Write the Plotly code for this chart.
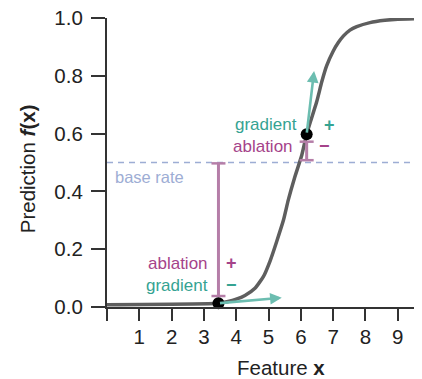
import plotly.graph_objects as go

# Curve
curve_x = [0, 3.45, 3.75, 4.0, 4.27, 4.58, 4.84, 5.05, 5.25, 5.46, 5.61, 5.80, 6.03, 6.18,
           6.28, 6.49, 6.65, 6.80, 7.0, 7.16, 7.32, 7.52, 7.73, 8.14, 8.6, 9.0, 9.75]
curve_y = [0.008, 0.013, 0.019, 0.027, 0.040, 0.065, 0.105, 0.160, 0.226, 0.30, 0.37, 0.445,
           0.526, 0.598, 0.635, 0.71, 0.78, 0.835, 0.885, 0.915, 0.938, 0.958, 0.970, 0.984,
           0.992, 0.996, 0.998]

base_rate = 0.5
x_range = [0, 9.75]

# Points of interest
pts_x = [3.45, 6.18]
pts_y = [0.013, 0.598]

# Ablation bars (x, y_from, y_to)
abl_x = [3.45, 6.18]
abl_y0 = [0.497, 0.508]
abl_y1 = [0.038, 0.572]

# Gradient arrows (tail = point, tip)
grad_tip_x = [5.41, 6.41]
grad_tip_y = [0.032, 0.817]

# Labels
lab_text = ["ablation", "gradient", "gradient", "ablation"]
lab_x = [3.2, 3.2, 5.95, 5.82]
lab_y = [0.151, 0.076, 0.63, 0.557]
lab_sign = ["+", "−", "+", "−"]
sign_x = [3.84, 3.84, 6.9, 6.72]

xtick_vals = [0, 1, 2, 3, 4, 5, 6, 7, 8, 9]
xtick_text = ["", "1", "2", "3", "4", "5", "6", "7", "8", "9"]
ytick_vals = [0.0, 0.2, 0.4, 0.6, 0.8, 1.0]
ytick_text = ["0.0", "0.2", "0.4", "0.6", "0.8", "1.0"]

CURVE = "#5e5e5e"
BASE = "#9dadd4"
ABL_BAR = "#b57ea8"
ABL_TXT = "#a5438a"
GRAD_ARR = "#6cbdb0"
GRAD_TXT = "#35a392"
AX = "#333333"
FONT = "Liberation Sans, Arial, sans-serif"

fig = go.Figure()

fig.add_trace(go.Scatter(x=x_range, y=[base_rate, base_rate], mode="lines",
                         line=dict(color=BASE, width=1.6, dash="6px,5px"),
                         hoverinfo="skip"))

fig.add_trace(go.Scatter(x=curve_x, y=curve_y, mode="lines",
                         line=dict(color=CURVE, width=3.5, shape="spline", smoothing=0.5),
                         hoverinfo="skip", cliponaxis=False))

for i in range(len(abl_x)):
    fig.add_trace(go.Scatter(x=[abl_x[i], abl_x[i]], y=[abl_y0[i], abl_y1[i]],
                             mode="lines+markers",
                             line=dict(color=ABL_BAR, width=3),
                             marker=dict(symbol="line-ew", size=10,
                                         line=dict(color=ABL_BAR, width=2.5)),
                             hoverinfo="skip"))

for i in range(len(pts_x)):
    fig.add_annotation(x=grad_tip_x[i], y=grad_tip_y[i], ax=pts_x[i], ay=pts_y[i],
                       xref="x", yref="y", axref="x", ayref="y", text="",
                       showarrow=True, arrowhead=2, arrowsize=0.9, arrowwidth=2.6,
                       arrowcolor=GRAD_ARR, standoff=0, startstandoff=0)

fig.add_trace(go.Scatter(x=pts_x, y=pts_y, mode="markers",
                         marker=dict(color="black", size=12),
                         hoverinfo="skip", cliponaxis=False))

for i in range(len(lab_text)):
    col = ABL_TXT if lab_text[i] == "ablation" else GRAD_TXT
    fig.add_annotation(x=lab_x[i], y=lab_y[i], text=lab_text[i], showarrow=False,
                       xanchor="right", yanchor="middle",
                       font=dict(family=FONT, size=17, color=col))
    fig.add_annotation(x=sign_x[i], y=lab_y[i], text="<b>" + lab_sign[i] + "</b>",
                       showarrow=False, xanchor="center", yanchor="middle",
                       font=dict(family=FONT, size=18, color=col))

fig.add_annotation(x=0.2, y=base_rate - 0.012, text="base rate", showarrow=False,
                   xanchor="left", yanchor="top",
                   font=dict(family=FONT, size=16.5, color=BASE))

# axis titles
fig.add_annotation(x=0.552, y=-0.208, xref="paper", yref="paper",
                   text="Feature <b>x</b>", showarrow=False, xanchor="center", yanchor="middle",
                   font=dict(family=FONT, size=20.5, color="#222222"))
fig.add_annotation(x=-0.254, y=0.48, xref="paper", yref="paper", textangle=-90,
                   text="Prediction <b><i>f</i>(x)</b>", showarrow=False,
                   xanchor="center", yanchor="middle",
                   font=dict(family=FONT, size=20.5, color="#222222"))

# the page body adds an 8px offset, so the figure is 8px smaller on each axis
fig.update_layout(
    width=414, height=371,
    margin=dict(l=99, r=0, t=10, b=72, autoexpand=False),
    paper_bgcolor="white", plot_bgcolor="white",
    showlegend=False,
    font=dict(family=FONT, size=20.5, color="#222222"),
    xaxis=dict(range=x_range, tickvals=xtick_vals, ticktext=xtick_text,
               showline=True, linecolor=AX, linewidth=2.2, ticks="outside",
               ticklen=12, tickwidth=2.2, tickcolor=AX, showgrid=False, zeroline=False,
               ticklabelstandoff=-2, ticklabeloverflow="allow"),
    yaxis=dict(range=[0, 1], tickvals=ytick_vals, ticktext=ytick_text,
               showline=True, linecolor=AX, linewidth=2.2, ticks="outside",
               ticklen=14, tickwidth=2.2, tickcolor=AX, showgrid=False, zeroline=False,
               ticklabelstandoff=4, ticklabeloverflow="allow"),
)

fig.write_html("out.html")
